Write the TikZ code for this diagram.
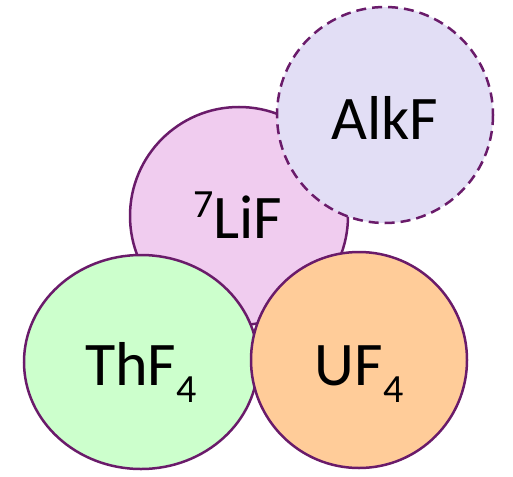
\documentclass[tikz,border=0pt]{standalone}
\usepackage{fontspec}
\setmainfont{Carlito}
\definecolor{edge}{HTML}{6A1B6A}
\definecolor{lif}{HTML}{F0CCEF}
\definecolor{alk}{HTML}{E2DEF5}
\definecolor{thf}{HTML}{CCFFCC}
\definecolor{uf}{HTML}{FFCC99}
\tikzset{
  blob/.style={draw=edge, line width=2.5pt},
  lbl/.style={font=\fontsize{62}{62}\selectfont, text=black, inner sep=0pt, anchor=base},
}
\newcommand{\supn}[1]{{\fontsize{40}{40}\selectfont\raisebox{21pt}{#1}}}
\newcommand{\subn}[1]{{\fontsize{40}{40}\selectfont\raisebox{-17pt}{#1}}}
\begin{document}
\begin{tikzpicture}[x=1pt,y=-1pt]
\useasboundingbox (0,0) rectangle (513,476);
\fill[white] (0,0) rectangle (513,476);
\draw[blob, fill=lif] (239,216) circle (109);
\draw[blob, fill=alk, dash pattern=on 10pt off 6pt] (385,115) circle (108);
\draw[blob, fill=thf] (141,362) ellipse [x radius=117, y radius=107];
\draw[blob, fill=uf] (359,360) circle (108);
\node[lbl] (a) at (385,139) {AlkF};
\node[lbl] (l) at (238,238) {\supn{7}LiF};
\node[lbl] (t) at (141,385) {ThF\subn{4}};
\node[lbl] (u) at (359,385) {UF\subn{4}};
\end{tikzpicture}
\end{document}
